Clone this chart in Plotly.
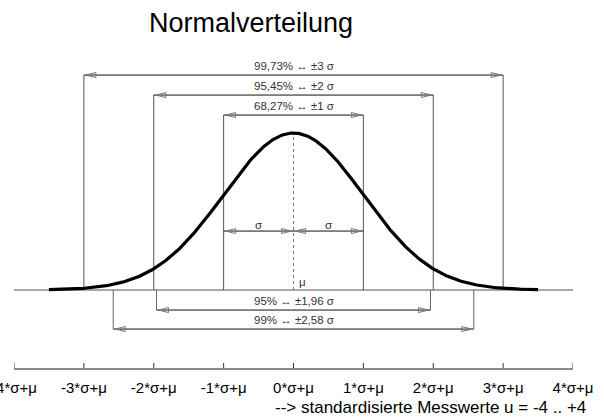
import numpy as np
import plotly.graph_objects as go

# ---------------- data ----------------
chart_title = "Normalverteilung"
sigma_k = [1, 2, 3]
sigma_pct = ["68,27%", "95,45%", "99,73%"]
conf_z = [1.96, 2.58]
conf_pct = ["95%", "99%"]
tick_vals = [-4, -3, -2, -1, 0, 1, 2, 3, 4]
tick_text = ["-4*σ+μ", "-3*σ+μ", "-2*σ+μ", "-1*σ+μ", "0*σ+μ",
             "1*σ+μ", "2*σ+μ", "3*σ+μ", "4*σ+μ"]
curve_lo, curve_hi = -3.5, 3.5
axis_note = "--> standardisierte Messwerte u = -4 .. +4"

# ---------------- layout constants ----------------
W, H = 604, 419
ML, MR, MT, MB = 14, 31, 0, 51
XMIN, XMAX = -4, 4
YMIN, YMAX = -0.198, 0.7368
PX_X = (W - ML - MR) / (XMAX - XMIN)
PX_Y = (H - MT - MB) / (YMAX - YMIN)


def dx(px):
    return px / PX_X


def dy(px):
    return px / PX_Y


upper_levels = [dy(175), dy(195), dy(215)]   # for 1,2,3 sigma
lower_levels = [dy(-20), dy(-39)]            # for 1.96, 2.58
sig_level = dy(59)

FONT = "Liberation Sans, Arial, sans-serif"

# curve (normal density)
u = np.linspace(curve_lo, curve_hi, 401)
pdf = np.exp(-u ** 2 / 2) / np.sqrt(2 * np.pi)
peak = 1 / np.sqrt(2 * np.pi)

fig = go.Figure()


def add_line(xs, ys, color="#000", width=1, dash="solid", clip=True):
    fig.add_trace(go.Scatter(x=xs, y=ys, mode="lines", hoverinfo="skip",
                             line=dict(color=color, width=width, dash=dash),
                             cliponaxis=clip, showlegend=False))


tri_x, tri_y = [], []


def arrowhead(x_end, y, direction):
    # direction -1: tip points left (toward x_end), +1: tip points right
    tip = x_end - direction * dx(2)
    base = x_end - direction * dx(12)
    h = dy(2.5)
    tri_x.extend([tip, base, base, tip, None])
    tri_y.extend([y, y + h, y - h, y, None])


# baseline
add_line([XMIN, XMAX], [0, 0], color="#8c8c8c", width=1.5)

# vertical guide lines for sigma brackets
vx, vy = [], []
for k, lev in zip(sigma_k, upper_levels):
    for s in (-1, 1):
        vx += [s * k, s * k, None]
        vy += [0, lev, None]
add_line(vx, vy, color="#555", width=1)

# vertical guide lines for confidence brackets
cx, cy = [], []
for z, lev in zip(conf_z, lower_levels):
    for s in (-1, 1):
        cx += [s * z, s * z, None]
        cy += [0, lev, None]
add_line(cx, cy, color="#666", width=1)

# horizontal bracket lines
hx, hy = [], []
for k, lev in zip(sigma_k, upper_levels):
    hx += [-k, k, None]
    hy += [lev, lev, None]
    arrowhead(-k, lev, -1)
    arrowhead(k, lev, 1)
for z, lev in zip(conf_z, lower_levels):
    hx += [-z, z, None]
    hy += [lev, lev, None]
    arrowhead(-z, lev, -1)
    arrowhead(z, lev, 1)
# sigma arrows
hx += [-1, 1, None]
hy += [sig_level, sig_level, None]
arrowhead(-1, sig_level, -1)
arrowhead(0, sig_level, 1)
arrowhead(0, sig_level, -1)
arrowhead(1, sig_level, 1)
add_line(hx, hy, color="#111", width=1)

# center dotted line
add_line([0, 0], [0, peak], color="#777", width=1, dash="dot")

# arrowheads
add_line(tri_x, tri_y, color="#777", width=1)

# curve
add_line(u, pdf, color="#000", width=3.2)

# tick marks on the bottom scale (crossing the axis line)
tkx, tky = [], []
for t in tick_vals:
    tkx += [t, t, None]
    tky += [YMIN - dy(2), YMIN + dy(5), None]
add_line(tkx, tky, color="#333", width=1, clip=False)

annotations = []
for k, lev, pct in zip(sigma_k, upper_levels, sigma_pct):
    annotations.append(dict(x=0, y=lev + dy(9), text=f"{pct} ↔ ±{k} σ",
                            showarrow=False, xanchor="center", yanchor="middle",
                            font=dict(family=FONT, size=11.5, color="#333")))
for z, lev, pct in zip(conf_z, lower_levels, conf_pct):
    ztxt = f"{z:.2f}".replace(".", ",")
    annotations.append(dict(x=0, y=lev + dy(9), text=f"{pct} ↔ ±{ztxt} σ",
                            showarrow=False, xanchor="center", yanchor="middle",
                            font=dict(family=FONT, size=11.5, color="#333")))
for s in (-0.5, 0.5):
    annotations.append(dict(x=s, y=sig_level + dy(6), text="σ", showarrow=False,
                            xanchor="center", yanchor="middle",
                            font=dict(family=FONT, size=11.5, color="#333")))
annotations.append(dict(x=dx(3), y=dy(8), text="μ", showarrow=False,
                        xanchor="left", yanchor="middle",
                        font=dict(family=FONT, size=11.5, color="#333")))
annotations.append(dict(xref="paper", yref="paper", x=(251 - ML) / (W - ML - MR),
                        y=(H - MB - 23) / (H - MB - MT), text=chart_title,
                        showarrow=False, xanchor="center", yanchor="middle",
                        font=dict(family=FONT, size=27, color="#000")))
annotations.append(dict(xref="paper", yref="paper", x=(588 - ML) / (W - ML - MR),
                        y=(H - MB - 407) / (H - MB - MT), text=axis_note,
                        showarrow=False, xanchor="right", yanchor="middle",
                        font=dict(family=FONT, size=17, color="#000")))

fig.update_layout(
    width=W, height=H, margin=dict(l=ML, r=MR, t=MT, b=MB, autoexpand=False),
    paper_bgcolor="white", plot_bgcolor="white",
    annotations=annotations,
    xaxis=dict(range=[XMIN, XMAX], showgrid=False, zeroline=False,
               showline=True, linecolor="#8c8c8c", linewidth=1.5,
               ticks="", tickvals=tick_vals, ticktext=tick_text,
               tickfont=dict(family=FONT, size=15, color="#000"),
               ticklabelstandoff=5, ticklabeloverflow="allow",
               automargin=False, fixedrange=True),
    yaxis=dict(range=[YMIN, YMAX], visible=False, showgrid=False,
               zeroline=False, automargin=False, fixedrange=True),
)

fig.write_html("out.html", config={"displayModeBar": False},
               post_script="document.body.style.margin='0';"
                           "document.body.style.overflow='hidden';")
